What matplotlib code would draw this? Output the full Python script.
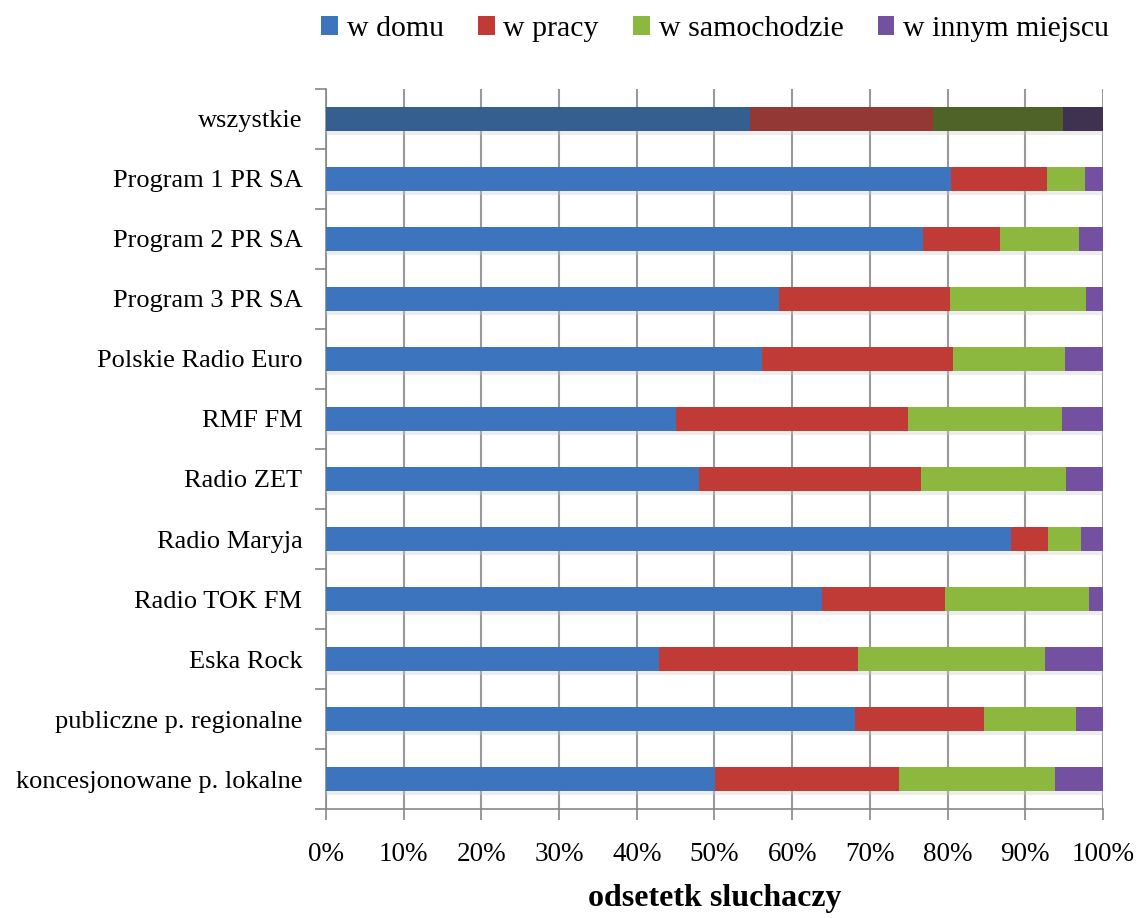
import matplotlib
matplotlib.use("Agg")
import matplotlib.pyplot as plt
import numpy as np
from matplotlib.patches import Patch
import matplotlib.patheffects as pe

categories = ["wszystkie", "Program 1 PR SA", "Program 2 PR SA", "Program 3 PR SA",
              "Polskie Radio Euro", "RMF FM", "Radio ZET", "Radio Maryja",
              "Radio TOK FM", "Eska Rock", "publiczne p. regionalne",
              "koncesjonowane p. lokalne"]
series_names = ["w domu", "w pracy", "w samochodzie", "w innym miejscu"]
w_domu = [54.6, 80.4, 76.8, 58.3, 56.1, 45.0, 48.0, 88.2, 63.8, 42.9, 68.1, 50.1]
w_pracy = [23.5, 12.4, 9.9, 22.0, 24.6, 29.9, 28.6, 4.7, 15.9, 25.6, 16.6, 23.6]
w_samochodzie = [16.8, 4.9, 10.2, 17.5, 14.4, 19.8, 18.6, 4.3, 18.5, 24.0, 11.8, 20.1]
w_innym = [5.1, 2.3, 3.1, 2.2, 4.9, 5.3, 4.8, 2.8, 1.8, 7.5, 3.5, 6.2]
xticklabels = ["0%", "10%", "20%", "30%", "40%", "50%", "60%", "70%", "80%", "90%", "100%"]

colors = ["#3C74BE", "#C03A36", "#8DB83F", "#7450A0"]
dark_colors = ["#355F8E", "#943835", "#4F6228", "#3F3150"]

plt.rcParams["font.family"] = ["Liberation Serif", "DejaVu Serif"]

fig = plt.figure(figsize=(11.39, 9.18), dpi=100)
ax = fig.add_axes([0.2862, 0.1187, 0.9684 - 0.2862, 0.9031 - 0.1187])

n = len(categories)
y = np.arange(n)
data = [w_domu, w_pracy, w_samochodzie, w_innym]
left = np.zeros(n)
shadow = [pe.SimplePatchShadow(offset=(0, -3), shadow_rgbFace="#cccccc", alpha=0.35), pe.Normal()]
for i, vals in enumerate(data):
    vals = np.array(vals, dtype=float)
    cols = [dark_colors[i] if k == 0 else colors[i] for k in range(n)]
    bars = ax.barh(y, vals, left=left, height=0.4, color=cols, zorder=3)
    for b in bars:
        b.set_path_effects(shadow)
    left += vals

ax.set_xlim(0, 100)
ax.set_ylim(n - 0.5, -0.5)
ax.set_xticks(np.arange(0, 101, 10))
ax.set_xticklabels(xticklabels, fontsize=19.5)
ax.set_yticks(y)
ax.set_yticklabels(categories, fontsize=19)
ax.set_yticks(np.arange(-0.5, n, 1), minor=True)
ax.tick_params(axis="y", which="major", length=0, pad=17)
ax.tick_params(axis="y", which="minor", length=8, color="#888888", width=1.2, direction="out")
ax.tick_params(axis="x", which="major", length=8, color="#888888", width=1.2, direction="out", pad=16)
ax.xaxis.grid(True, color="#999999", linewidth=1.5, zorder=0)
ax.set_axisbelow(True)
for s in ["top", "right"]:
    ax.spines[s].set_visible(False)
for s in ["left", "bottom"]:
    ax.spines[s].set_color("#888888")
    ax.spines[s].set_linewidth(1.2)

ax.set_xlabel("odsetetk sluchaczy", fontsize=23, fontweight="bold", labelpad=12)

handles = [Patch(facecolor=c, label=l) for c, l in zip(colors, series_names)]
fig.legend(handles=handles, loc="center", bbox_to_anchor=(0.628, 0.968), ncol=4, frameon=False,
           fontsize=21.5, handlelength=0.55, handleheight=0.6, handletextpad=0.3, columnspacing=1.15)

fig.savefig("out.png", dpi=100)
